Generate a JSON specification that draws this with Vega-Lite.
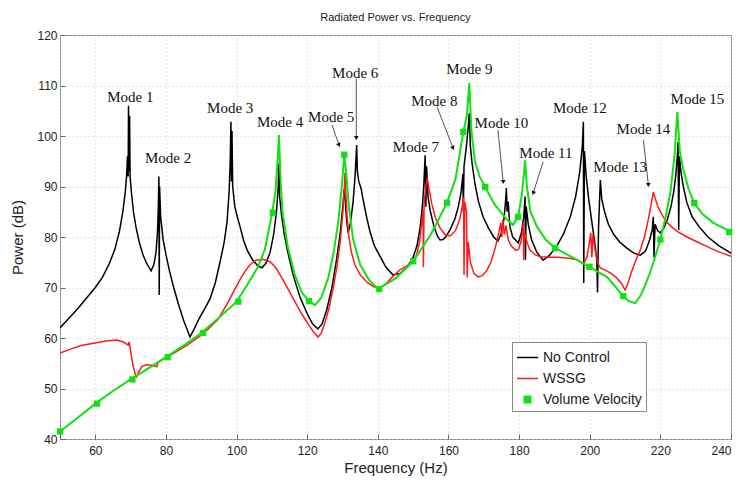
{
  "$schema": "https://vega.github.io/schema/vega-lite/v6.json",
  "width": 671,
  "height": 404,
  "autosize": "none",
  "padding": {"left": 60, "top": 35, "right": 10, "bottom": 41},
  "background": "white",
  "title": {"text": "Radiated Power vs. Frequency", "font": "Liberation Sans, Arial, sans-serif", "fontSize": 11, "fontWeight": "normal", "color": "#222", "offset": 6},
  "config": {
    "view": {"stroke": "#888", "strokeWidth": 1},
    "axis": {"labelFont": "Liberation Sans, Arial, sans-serif", "labelFontSize": 12, "labelColor": "#222", "titleFont": "Liberation Sans, Arial, sans-serif", "titleFontSize": 15, "titleFontWeight": "normal", "titleColor": "#222", "grid": true, "gridColor": "#c8c8c8", "gridDash": [1, 3], "domain": false, "tickColor": "#666", "tickSize": -5, "labelPadding": 10}
  },
  "datasets": {
    "curves": [
      {"s":"No Control","f":50,"p":62},{"s":"No Control","f":52,"p":63.5},{"s":"No Control","f":55,"p":65.8},{"s":"No Control","f":58,"p":68.3},{"s":"No Control","f":60,"p":70},{"s":"No Control","f":62,"p":72},{"s":"No Control","f":64,"p":74.8},{"s":"No Control","f":65.5,"p":77.5},{"s":"No Control","f":66.8,"p":81},{"s":"No Control","f":67.8,"p":85},{"s":"No Control","f":68.5,"p":89},{"s":"No Control","f":68.9,"p":92.5},{"s":"No Control","f":69.1,"p":96},{"s":"No Control","f":69.3,"p":92},{"s":"No Control","f":69.4,"p":106},{"s":"No Control","f":69.55,"p":93},{"s":"No Control","f":69.7,"p":104},{"s":"No Control","f":69.85,"p":92},{"s":"No Control","f":70.2,"p":89},{"s":"No Control","f":70.8,"p":85},{"s":"No Control","f":71.5,"p":82},{"s":"No Control","f":72.5,"p":78.8},{"s":"No Control","f":73.5,"p":76.5},{"s":"No Control","f":74.5,"p":74.8},{"s":"No Control","f":75.8,"p":73.3},{"s":"No Control","f":76.6,"p":74.6},{"s":"No Control","f":77.2,"p":77},{"s":"No Control","f":77.6,"p":81},{"s":"No Control","f":77.85,"p":86},{"s":"No Control","f":78.0,"p":92},{"s":"No Control","f":78.1,"p":68.5},{"s":"No Control","f":78.2,"p":90},{"s":"No Control","f":78.5,"p":84},{"s":"No Control","f":79.2,"p":79.5},{"s":"No Control","f":80,"p":76.5},{"s":"No Control","f":81,"p":73.3},{"s":"No Control","f":82,"p":70.5},{"s":"No Control","f":83.5,"p":66.8},{"s":"No Control","f":85,"p":63.5},{"s":"No Control","f":86.8,"p":60.2},{"s":"No Control","f":88,"p":61.8},{"s":"No Control","f":89.5,"p":64},{"s":"No Control","f":91,"p":65.8},{"s":"No Control","f":92.5,"p":67.8},{"s":"No Control","f":94,"p":71},{"s":"No Control","f":95.3,"p":75},{"s":"No Control","f":96.5,"p":79},{"s":"No Control","f":97.3,"p":83},{"s":"No Control","f":97.9,"p":89},{"s":"No Control","f":98.2,"p":95},{"s":"No Control","f":98.4,"p":102.8},{"s":"No Control","f":98.55,"p":91},{"s":"No Control","f":98.7,"p":101},{"s":"No Control","f":98.9,"p":90},{"s":"No Control","f":99.5,"p":86},{"s":"No Control","f":100.2,"p":84},{"s":"No Control","f":101,"p":82},{"s":"No Control","f":102,"p":79.3},{"s":"No Control","f":103,"p":77.4},{"s":"No Control","f":104.5,"p":75.5},{"s":"No Control","f":106,"p":74.3},{"s":"No Control","f":107.2,"p":73.9},{"s":"No Control","f":108.3,"p":74.8},{"s":"No Control","f":109.5,"p":77},{"s":"No Control","f":110.5,"p":80.5},{"s":"No Control","f":111.3,"p":85},{"s":"No Control","f":111.8,"p":90},{"s":"No Control","f":112,"p":94.6},{"s":"No Control","f":112.2,"p":88},{"s":"No Control","f":112.7,"p":84.5},{"s":"No Control","f":113.5,"p":80.5},{"s":"No Control","f":114.5,"p":77},{"s":"No Control","f":116,"p":72.5},{"s":"No Control","f":118,"p":68},{"s":"No Control","f":120,"p":64.8},{"s":"No Control","f":121.5,"p":62.8},{"s":"No Control","f":123,"p":61.8},{"s":"No Control","f":124.2,"p":62.8},{"s":"No Control","f":125.5,"p":65.5},{"s":"No Control","f":127,"p":70},{"s":"No Control","f":128.3,"p":75.5},{"s":"No Control","f":129.3,"p":80.5},{"s":"No Control","f":130,"p":85.5},{"s":"No Control","f":130.5,"p":89.5},{"s":"No Control","f":130.8,"p":87},{"s":"No Control","f":131.2,"p":83},{"s":"No Control","f":131.6,"p":80.8},{"s":"No Control","f":132.3,"p":83},{"s":"No Control","f":133,"p":87},{"s":"No Control","f":133.6,"p":92.5},{"s":"No Control","f":134,"p":98.2},{"s":"No Control","f":134.2,"p":93},{"s":"No Control","f":134.6,"p":91},{"s":"No Control","f":135.3,"p":89.5},{"s":"No Control","f":135.8,"p":87.5},{"s":"No Control","f":136.8,"p":84},{"s":"No Control","f":137.8,"p":81},{"s":"No Control","f":139,"p":78.3},{"s":"No Control","f":140.6,"p":76.2},{"s":"No Control","f":142.3,"p":74},{"s":"No Control","f":144.3,"p":72.5},{"s":"No Control","f":146.3,"p":72.8},{"s":"No Control","f":148.3,"p":74},{"s":"No Control","f":150,"p":76},{"s":"No Control","f":151.1,"p":78.3},{"s":"No Control","f":152,"p":82},{"s":"No Control","f":152.6,"p":86},{"s":"No Control","f":153,"p":90},{"s":"No Control","f":153.4,"p":96.2},{"s":"No Control","f":153.6,"p":86},{"s":"No Control","f":153.8,"p":94},{"s":"No Control","f":154.2,"p":88},{"s":"No Control","f":154.8,"p":85.3},{"s":"No Control","f":155.8,"p":82.3},{"s":"No Control","f":156.8,"p":80.3},{"s":"No Control","f":157.6,"p":79.4},{"s":"No Control","f":158.5,"p":79.5},{"s":"No Control","f":159.5,"p":80.3},{"s":"No Control","f":160.5,"p":81.5},{"s":"No Control","f":161.8,"p":83.5},{"s":"No Control","f":162.8,"p":86},{"s":"No Control","f":163.6,"p":89},{"s":"No Control","f":164.1,"p":92.5},{"s":"No Control","f":164.2,"p":85},{"s":"No Control","f":164.4,"p":94},{"s":"No Control","f":165,"p":97.5},{"s":"No Control","f":165.5,"p":101},{"s":"No Control","f":165.9,"p":104.5},{"s":"No Control","f":166.2,"p":98},{"s":"No Control","f":166.7,"p":94.5},{"s":"No Control","f":167.5,"p":90.5},{"s":"No Control","f":168.5,"p":87},{"s":"No Control","f":169.8,"p":84},{"s":"No Control","f":171.3,"p":81.8},{"s":"No Control","f":172.8,"p":80},{"s":"No Control","f":174,"p":79.2},{"s":"No Control","f":175,"p":80.8},{"s":"No Control","f":175.7,"p":83.5},{"s":"No Control","f":176.1,"p":86.5},{"s":"No Control","f":176.4,"p":89.7},{"s":"No Control","f":176.6,"p":85},{"s":"No Control","f":176.9,"p":87},{"s":"No Control","f":177.4,"p":82},{"s":"No Control","f":178.2,"p":80},{"s":"No Control","f":179.8,"p":78.8},{"s":"No Control","f":180.7,"p":81},{"s":"No Control","f":181.3,"p":84},{"s":"No Control","f":181.7,"p":88},{"s":"No Control","f":181.8,"p":75.5},{"s":"No Control","f":182,"p":86},{"s":"No Control","f":182.6,"p":82.5},{"s":"No Control","f":183.5,"p":79.5},{"s":"No Control","f":185,"p":77},{"s":"No Control","f":186.8,"p":75.4},{"s":"No Control","f":188.5,"p":76.3},{"s":"No Control","f":190.5,"p":78},{"s":"No Control","f":192.5,"p":80.5},{"s":"No Control","f":194.5,"p":84},{"s":"No Control","f":196,"p":88},{"s":"No Control","f":197.2,"p":93},{"s":"No Control","f":197.9,"p":98},{"s":"No Control","f":198.2,"p":102.8},{"s":"No Control","f":198.3,"p":70.9},{"s":"No Control","f":198.5,"p":97},{"s":"No Control","f":199,"p":92},{"s":"No Control","f":199.7,"p":87.5},{"s":"No Control","f":200.5,"p":83.5},{"s":"No Control","f":201.3,"p":79.5},{"s":"No Control","f":202,"p":75.4},{"s":"No Control","f":202.2,"p":69},{"s":"No Control","f":202.5,"p":82},{"s":"No Control","f":203,"p":91.3},{"s":"No Control","f":203.4,"p":87.5},{"s":"No Control","f":204.2,"p":85},{"s":"No Control","f":205.3,"p":82.5},{"s":"No Control","f":206.8,"p":80.5},{"s":"No Control","f":208.5,"p":79},{"s":"No Control","f":210.5,"p":77.8},{"s":"No Control","f":212.5,"p":76.8},{"s":"No Control","f":214.3,"p":76.4},{"s":"No Control","f":215.8,"p":77.2},{"s":"No Control","f":217,"p":79.5},{"s":"No Control","f":217.7,"p":81.5},{"s":"No Control","f":218,"p":84},{"s":"No Control","f":218.2,"p":76},{"s":"No Control","f":218.5,"p":82.5},{"s":"No Control","f":219.2,"p":81.3},{"s":"No Control","f":220,"p":80.8},{"s":"No Control","f":221,"p":81.8},{"s":"No Control","f":222,"p":83.5},{"s":"No Control","f":223,"p":86},{"s":"No Control","f":223.8,"p":89},{"s":"No Control","f":224.4,"p":92.5},{"s":"No Control","f":224.8,"p":96},{"s":"No Control","f":225,"p":98.8},{"s":"No Control","f":225.2,"p":81.4},{"s":"No Control","f":225.4,"p":96},{"s":"No Control","f":225.8,"p":93},{"s":"No Control","f":226.5,"p":90},{"s":"No Control","f":227.5,"p":86.8},{"s":"No Control","f":229,"p":84},{"s":"No Control","f":231,"p":82},{"s":"No Control","f":233.5,"p":80},{"s":"No Control","f":236.5,"p":78.3},{"s":"No Control","f":240,"p":76.8},
      {"s":"WSSG","f":50,"p":57},{"s":"WSSG","f":53,"p":57.8},{"s":"WSSG","f":56,"p":58.5},{"s":"WSSG","f":60,"p":59},{"s":"WSSG","f":63,"p":59.4},{"s":"WSSG","f":66,"p":59.6},{"s":"WSSG","f":68,"p":59.2},{"s":"WSSG","f":69.3,"p":58.6},{"s":"WSSG","f":69.6,"p":59.2},{"s":"WSSG","f":70.1,"p":57},{"s":"WSSG","f":70.7,"p":54.5},{"s":"WSSG","f":71.3,"p":52.8},{"s":"WSSG","f":71.7,"p":52.3},{"s":"WSSG","f":72.3,"p":53.3},{"s":"WSSG","f":73.2,"p":54.4},{"s":"WSSG","f":74.5,"p":54.7},{"s":"WSSG","f":76,"p":54.6},{"s":"WSSG","f":77.4,"p":54.3},{"s":"WSSG","f":77.8,"p":55.2},{"s":"WSSG","f":80,"p":56.1},{"s":"WSSG","f":83,"p":57.3},{"s":"WSSG","f":86,"p":58.6},{"s":"WSSG","f":89.7,"p":60.4},{"s":"WSSG","f":92,"p":61.8},{"s":"WSSG","f":94.5,"p":63.5},{"s":"WSSG","f":97,"p":66.3},{"s":"WSSG","f":99,"p":69},{"s":"WSSG","f":101,"p":71.6},{"s":"WSSG","f":102.5,"p":73.3},{"s":"WSSG","f":103.8,"p":74.5},{"s":"WSSG","f":105.5,"p":75.4},{"s":"WSSG","f":107.5,"p":75.6},{"s":"WSSG","f":109.5,"p":75.1},{"s":"WSSG","f":111,"p":74},{"s":"WSSG","f":112.5,"p":72.3},{"s":"WSSG","f":114.5,"p":69.8},{"s":"WSSG","f":116.5,"p":67.2},{"s":"WSSG","f":118.5,"p":64.7},{"s":"WSSG","f":120.5,"p":62.5},{"s":"WSSG","f":122,"p":61},{"s":"WSSG","f":123.1,"p":60.2},{"s":"WSSG","f":124,"p":61},{"s":"WSSG","f":125,"p":63},{"s":"WSSG","f":126.2,"p":66},{"s":"WSSG","f":127.4,"p":70},{"s":"WSSG","f":128.5,"p":74.5},{"s":"WSSG","f":129.4,"p":79.5},{"s":"WSSG","f":130.1,"p":85},{"s":"WSSG","f":130.5,"p":89.5},{"s":"WSSG","f":130.7,"p":92.7},{"s":"WSSG","f":130.9,"p":89},{"s":"WSSG","f":131.3,"p":84},{"s":"WSSG","f":131.8,"p":80},{"s":"WSSG","f":132.5,"p":77},{"s":"WSSG","f":133.5,"p":74.5},{"s":"WSSG","f":135,"p":72.5},{"s":"WSSG","f":137,"p":71},{"s":"WSSG","f":139,"p":70.1},{"s":"WSSG","f":140.4,"p":69.8},{"s":"WSSG","f":142,"p":70.5},{"s":"WSSG","f":144,"p":72},{"s":"WSSG","f":146.3,"p":73.5},{"s":"WSSG","f":148,"p":74.2},{"s":"WSSG","f":150,"p":75.2},{"s":"WSSG","f":151,"p":76.5},{"s":"WSSG","f":151.8,"p":79},{"s":"WSSG","f":152.3,"p":82},{"s":"WSSG","f":152.8,"p":85.3},{"s":"WSSG","f":152.9,"p":74},{"s":"WSSG","f":153.1,"p":86.5},{"s":"WSSG","f":153.5,"p":89.5},{"s":"WSSG","f":154,"p":91.7},{"s":"WSSG","f":154.5,"p":89.5},{"s":"WSSG","f":155.3,"p":86.5},{"s":"WSSG","f":156.3,"p":83.8},{"s":"WSSG","f":157.6,"p":81.8},{"s":"WSSG","f":159,"p":80.5},{"s":"WSSG","f":160.5,"p":80.2},{"s":"WSSG","f":162,"p":81.3},{"s":"WSSG","f":163.2,"p":83.5},{"s":"WSSG","f":164,"p":86.5},{"s":"WSSG","f":164.3,"p":87.9},{"s":"WSSG","f":164.4,"p":72.5},{"s":"WSSG","f":164.6,"p":87},{"s":"WSSG","f":165.1,"p":85},{"s":"WSSG","f":165.3,"p":72},{"s":"WSSG","f":165.6,"p":79},{"s":"WSSG","f":166.2,"p":75},{"s":"WSSG","f":167.2,"p":72.8},{"s":"WSSG","f":168.4,"p":72.1},{"s":"WSSG","f":169.5,"p":72.3},{"s":"WSSG","f":170.8,"p":73.3},{"s":"WSSG","f":172,"p":75},{"s":"WSSG","f":173.3,"p":78},{"s":"WSSG","f":174.3,"p":81},{"s":"WSSG","f":174.8,"p":82.8},{"s":"WSSG","f":175.1,"p":80},{"s":"WSSG","f":175.4,"p":83.5},{"s":"WSSG","f":175.8,"p":80.5},{"s":"WSSG","f":176.3,"p":82.3},{"s":"WSSG","f":176.9,"p":79.5},{"s":"WSSG","f":177.8,"p":78.2},{"s":"WSSG","f":179,"p":77.4},{"s":"WSSG","f":179.8,"p":77.5},{"s":"WSSG","f":180.5,"p":79},{"s":"WSSG","f":181,"p":81.5},{"s":"WSSG","f":181.2,"p":82.8},{"s":"WSSG","f":181.3,"p":75.4},{"s":"WSSG","f":181.5,"p":81},{"s":"WSSG","f":182,"p":79.5},{"s":"WSSG","f":183,"p":77.5},{"s":"WSSG","f":184.5,"p":76.5},{"s":"WSSG","f":186,"p":76.1},{"s":"WSSG","f":188.5,"p":76},{"s":"WSSG","f":191,"p":76},{"s":"WSSG","f":194,"p":75.8},{"s":"WSSG","f":196.5,"p":75.5},{"s":"WSSG","f":198.2,"p":74.6},{"s":"WSSG","f":199.2,"p":76},{"s":"WSSG","f":199.8,"p":78.5},{"s":"WSSG","f":200.3,"p":80.8},{"s":"WSSG","f":200.6,"p":76},{"s":"WSSG","f":200.9,"p":80.5},{"s":"WSSG","f":201.5,"p":77.5},{"s":"WSSG","f":202.3,"p":74.8},{"s":"WSSG","f":203,"p":73.9},{"s":"WSSG","f":204.5,"p":73.4},{"s":"WSSG","f":205.8,"p":72.9},{"s":"WSSG","f":207.5,"p":72},{"s":"WSSG","f":209,"p":70.8},{"s":"WSSG","f":210,"p":69.5},{"s":"WSSG","f":210.8,"p":70.8},{"s":"WSSG","f":211.8,"p":73},{"s":"WSSG","f":213,"p":75.3},{"s":"WSSG","f":214.3,"p":77.4},{"s":"WSSG","f":215.5,"p":80},{"s":"WSSG","f":216.6,"p":83.5},{"s":"WSSG","f":217.4,"p":86.5},{"s":"WSSG","f":218,"p":88.9},{"s":"WSSG","f":218.6,"p":87.5},{"s":"WSSG","f":219.3,"p":86},{"s":"WSSG","f":220,"p":85},{"s":"WSSG","f":221,"p":83.8},{"s":"WSSG","f":222,"p":82.8},{"s":"WSSG","f":223.5,"p":81.8},{"s":"WSSG","f":225,"p":81},{"s":"WSSG","f":227.5,"p":80},{"s":"WSSG","f":230.5,"p":79},{"s":"WSSG","f":233,"p":78.2},{"s":"WSSG","f":236,"p":77.2},{"s":"WSSG","f":240,"p":76.2},
      {"s":"Volume Velocity","f":50,"p":41.5},{"s":"Volume Velocity","f":55,"p":44.2},{"s":"Volume Velocity","f":60,"p":47},{"s":"Volume Velocity","f":65,"p":49.5},{"s":"Volume Velocity","f":70,"p":51.8},{"s":"Volume Velocity","f":75,"p":54},{"s":"Volume Velocity","f":80,"p":56.2},{"s":"Volume Velocity","f":85,"p":58.5},{"s":"Volume Velocity","f":90,"p":61},{"s":"Volume Velocity","f":95,"p":64},{"s":"Volume Velocity","f":100,"p":67.2},{"s":"Volume Velocity","f":103,"p":70.5},{"s":"Volume Velocity","f":106,"p":74},{"s":"Volume Velocity","f":108,"p":77.5},{"s":"Volume Velocity","f":110,"p":84.5},{"s":"Volume Velocity","f":111,"p":89},{"s":"Volume Velocity","f":111.6,"p":95},{"s":"Volume Velocity","f":112,"p":100.2},{"s":"Volume Velocity","f":112.4,"p":92},{"s":"Volume Velocity","f":113,"p":85},{"s":"Volume Velocity","f":114.5,"p":78},{"s":"Volume Velocity","f":116.5,"p":72.5},{"s":"Volume Velocity","f":118.5,"p":69},{"s":"Volume Velocity","f":120.5,"p":67.3},{"s":"Volume Velocity","f":122.2,"p":66.5},{"s":"Volume Velocity","f":124,"p":68},{"s":"Volume Velocity","f":126,"p":72},{"s":"Volume Velocity","f":127.5,"p":77},{"s":"Volume Velocity","f":128.8,"p":83},{"s":"Volume Velocity","f":129.8,"p":90},{"s":"Volume Velocity","f":130.5,"p":96.3},{"s":"Volume Velocity","f":131,"p":93},{"s":"Volume Velocity","f":131.8,"p":86},{"s":"Volume Velocity","f":133,"p":79.5},{"s":"Volume Velocity","f":135,"p":74.5},{"s":"Volume Velocity","f":137.5,"p":71.5},{"s":"Volume Velocity","f":140,"p":69.7},{"s":"Volume Velocity","f":145,"p":71.8},{"s":"Volume Velocity","f":150,"p":75.2},{"s":"Volume Velocity","f":155,"p":80.5},{"s":"Volume Velocity","f":159.6,"p":86.8},{"s":"Volume Velocity","f":162,"p":91.5},{"s":"Volume Velocity","f":164.2,"p":100.8},{"s":"Volume Velocity","f":165.2,"p":104},{"s":"Volume Velocity","f":165.9,"p":110.5},{"s":"Volume Velocity","f":166.5,"p":101},{"s":"Volume Velocity","f":167.5,"p":95},{"s":"Volume Velocity","f":168.8,"p":92},{"s":"Volume Velocity","f":170.4,"p":89.9},{"s":"Volume Velocity","f":173,"p":86.5},{"s":"Volume Velocity","f":176.6,"p":83.4},{"s":"Volume Velocity","f":178.3,"p":82.4},{"s":"Volume Velocity","f":179.7,"p":84},{"s":"Volume Velocity","f":180.7,"p":88},{"s":"Volume Velocity","f":181.3,"p":92},{"s":"Volume Velocity","f":181.7,"p":95.2},{"s":"Volume Velocity","f":182.2,"p":90},{"s":"Volume Velocity","f":183.2,"p":85},{"s":"Volume Velocity","f":185.1,"p":82},{"s":"Volume Velocity","f":187.5,"p":79.5},{"s":"Volume Velocity","f":190.2,"p":77.8},{"s":"Volume Velocity","f":195,"p":76},{"s":"Volume Velocity","f":199.9,"p":74.1},{"s":"Volume Velocity","f":205,"p":72},{"s":"Volume Velocity","f":209.5,"p":68.3},{"s":"Volume Velocity","f":211,"p":67.3},{"s":"Volume Velocity","f":212.9,"p":66.9},{"s":"Volume Velocity","f":214.5,"p":68.5},{"s":"Volume Velocity","f":216,"p":71},{"s":"Volume Velocity","f":217.1,"p":73},{"s":"Volume Velocity","f":218.5,"p":76},{"s":"Volume Velocity","f":220,"p":79.5},{"s":"Volume Velocity","f":221.5,"p":84},{"s":"Volume Velocity","f":222.8,"p":88.7},{"s":"Volume Velocity","f":224,"p":96},{"s":"Volume Velocity","f":224.8,"p":104.8},{"s":"Volume Velocity","f":225.5,"p":97},{"s":"Volume Velocity","f":226.5,"p":93.3},{"s":"Volume Velocity","f":228,"p":89.5},{"s":"Volume Velocity","f":229.6,"p":86.7},{"s":"Volume Velocity","f":232,"p":84.5},{"s":"Volume Velocity","f":235,"p":82.8},{"s":"Volume Velocity","f":240,"p":81}
    ],
    "markers": [
      {"f":50,"p":41.5},{"f":60.5,"p":47},{"f":70.5,"p":51.8},{"f":80.5,"p":56.2},{"f":90.5,"p":61},{"f":100.5,"p":67.2},{"f":110.3,"p":84.8},{"f":120.5,"p":67.3},{"f":130.5,"p":96.3},{"f":140.4,"p":69.7},{"f":150,"p":75.2},{"f":159.6,"p":86.8},{"f":164.2,"p":100.8},{"f":170.4,"p":89.9},{"f":179.7,"p":84},{"f":190.2,"p":77.8},{"f":199.9,"p":74.1},{"f":209.5,"p":68.3},{"f":220,"p":79.5},{"f":229.6,"p":86.7},{"f":239.5,"p":81}
    ],
    "labels": [
      {"t":"Mode 1","f":69.9,"p":107.7},{"t":"Mode 2","f":80.6,"p":95.6},{"t":"Mode 3","f":98.2,"p":105.5},{"t":"Mode 4","f":112.3,"p":102.8},{"t":"Mode 5","f":126.8,"p":103.8},{"t":"Mode 6","f":133.6,"p":112.5},{"t":"Mode 7","f":150.8,"p":97.8},{"t":"Mode 8","f":156,"p":106.9},{"t":"Mode 9","f":165.9,"p":113.3},{"t":"Mode 10","f":175,"p":102.6},{"t":"Mode 11","f":187.6,"p":96.6},{"t":"Mode 12","f":197.2,"p":105.5},{"t":"Mode 13","f":208.6,"p":93.9},{"t":"Mode 14","f":215.2,"p":101.4},{"t":"Mode 15","f":230.5,"p":107.3}
    ],
    "arrows": [
      {"m":"Mode 5","f1":127,"p1":102.2,"f2":129,"p2":98.2,"dir":"right"},
      {"m":"Mode 6","f1":133.9,"p1":111.3,"f2":133.9,"p2":99.6,"dir":"down"},
      {"m":"Mode 8","f1":156.8,"p1":105.7,"f2":161.3,"p2":97.6,"dir":"right"},
      {"m":"Mode 10","f1":174,"p1":101.2,"f2":175.5,"p2":90.9,"dir":"down"},
      {"m":"Mode 11","f1":186.8,"p1":94.9,"f2":184,"p2":88.7,"dir":"left"},
      {"m":"Mode 14","f1":215.2,"p1":99.2,"f2":216.6,"p2":90.3,"dir":"down"}
    ]
  },
  "layer": [
    {
      "data": {"name": "curves"},
      "transform": [{"filter": "datum.s === 'No Control'"}],
      "mark": {"type": "line", "strokeWidth": 1.5, "clip": true},
      "encoding": {
        "x": {"field": "f", "type": "quantitative", "scale": {"domain": [50, 240], "nice": false, "zero": false}, "axis": {"title": "Frequency (Hz)", "values": [50, 60, 80, 100, 120, 140, 160, 180, 200, 220, 240], "labelExpr": "datum.value == 50 ? '' : datum.label", "titlePadding": 4, "labelPadding": 11}},
        "y": {"field": "p", "type": "quantitative", "scale": {"domain": [40, 120], "nice": false, "zero": false}, "axis": {"title": "Power (dB)", "values": [40, 50, 60, 70, 80, 90, 100, 110, 120], "titlePadding": 11, "labelPadding": 8}},
        "color": {"field": "s", "type": "nominal", "scale": {"domain": ["No Control", "WSSG", "Volume Velocity"], "range": ["#000000", "#ff1a1a", "#12e012"]},
          "legend": {"title": null, "orient": "none", "legendX": 452, "legendY": 307, "strokeColor": "#888", "fillColor": "white", "padding": 4, "labelFont": "Liberation Sans, Arial, sans-serif", "labelFontSize": 14, "labelColor": "#222", "symbolType": "stroke", "symbolSize": 225, "symbolStrokeWidth": 1.5, "rowPadding": 2, "labelOffset": 4,
            "encode": {"symbols": {"update": {
              "shape": {"signal": "datum.value === 'Volume Velocity' ? 'square' : 'stroke'"},
              "size": {"signal": "datum.value === 'Volume Velocity' ? 40 : 441"},
              "fill": {"signal": "datum.value === 'Volume Velocity' ? '#12e012' : 'transparent'"},
              "stroke": {"signal": "datum.value === 'No Control' ? '#000000' : (datum.value === 'WSSG' ? '#ff1a1a' : 'transparent')"}
            }}}}
        }
      }
    },
    {
      "data": {"name": "curves"},
      "transform": [{"filter": "datum.s === 'WSSG'"}],
      "mark": {"type": "line", "strokeWidth": 1.5, "clip": true},
      "encoding": {
        "x": {"field": "f", "type": "quantitative"},
        "y": {"field": "p", "type": "quantitative"},
        "color": {"field": "s", "type": "nominal"}
      }
    },
    {
      "data": {"name": "curves"},
      "transform": [{"filter": "datum.s === 'Volume Velocity'"}],
      "mark": {"type": "line", "strokeWidth": 2, "clip": true},
      "encoding": {
        "x": {"field": "f", "type": "quantitative"},
        "y": {"field": "p", "type": "quantitative"},
        "color": {"field": "s", "type": "nominal"}
      }
    },
    {
      "data": {"name": "markers"},
      "mark": {"type": "point", "shape": "square", "filled": true, "size": 40, "color": "#12e012", "opacity": 1},
      "encoding": {
        "x": {"field": "f", "type": "quantitative"},
        "y": {"field": "p", "type": "quantitative"}
      }
    },
    {
      "data": {"name": "arrows"},
      "mark": {"type": "rule", "color": "#555", "strokeWidth": 1},
      "encoding": {
        "x": {"field": "f1", "type": "quantitative"},
        "y": {"field": "p1", "type": "quantitative"},
        "x2": {"field": "f2"},
        "y2": {"field": "p2"}
      }
    },
    {
      "data": {"name": "arrows"},
      "transform": [{"filter": "datum.dir === 'down'"}],
      "mark": {"type": "point", "shape": "triangle-down", "filled": true, "size": 22, "color": "#111", "opacity": 1},
      "encoding": {
        "x": {"field": "f2", "type": "quantitative"},
        "y": {"field": "p2", "type": "quantitative"}
      }
    },
    {
      "data": {"name": "arrows"},
      "transform": [{"filter": "datum.dir === 'right'"}],
      "mark": {"type": "point", "shape": "triangle-down", "angle": -25, "filled": true, "size": 22, "color": "#111", "opacity": 1},
      "encoding": {
        "x": {"field": "f2", "type": "quantitative"},
        "y": {"field": "p2", "type": "quantitative"}
      }
    },
    {
      "data": {"name": "arrows"},
      "transform": [{"filter": "datum.dir === 'left'"}],
      "mark": {"type": "point", "shape": "triangle-down", "angle": 20, "filled": true, "size": 22, "color": "#111", "opacity": 1},
      "encoding": {
        "x": {"field": "f2", "type": "quantitative"},
        "y": {"field": "p2", "type": "quantitative"}
      }
    },
    {
      "data": {"name": "labels"},
      "mark": {"type": "text", "font": "Liberation Serif, Times New Roman, serif", "fontSize": 15, "color": "#111", "baseline": "middle", "align": "center"},
      "encoding": {
        "x": {"field": "f", "type": "quantitative"},
        "y": {"field": "p", "type": "quantitative"},
        "text": {"field": "t"}
      }
    }
  ]
}
